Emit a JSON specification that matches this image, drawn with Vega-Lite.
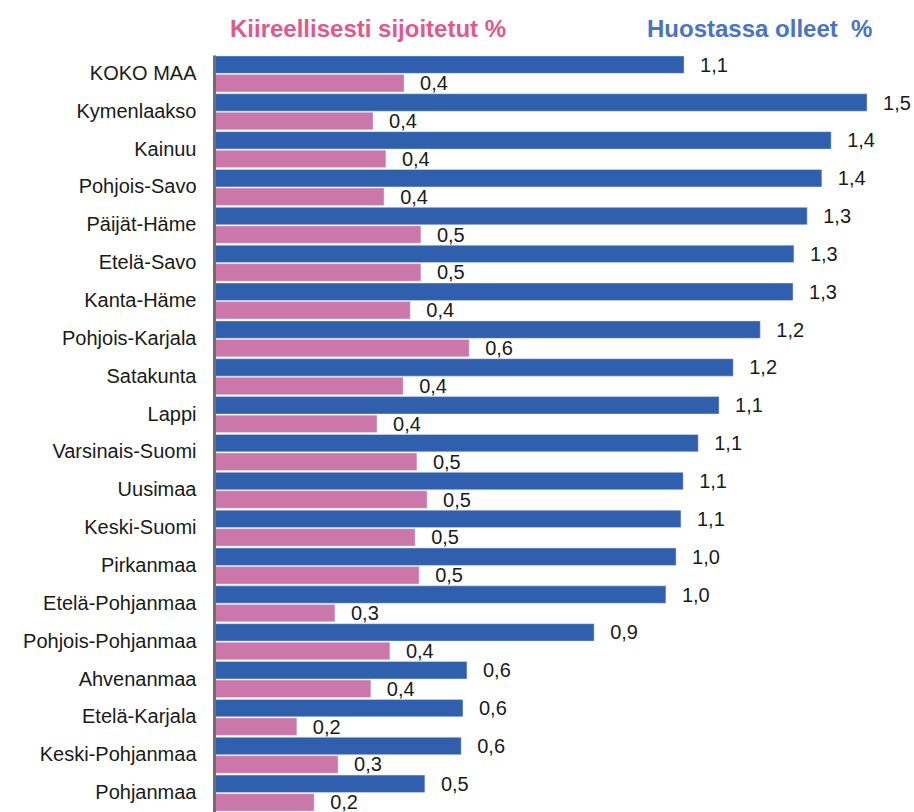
{
  "$schema": "https://vega.github.io/schema/vega-lite/v6.json",
  "width": 700,
  "height": 757,
  "autosize": {"type": "none"},
  "padding": {"left": 214, "top": 55, "right": 0, "bottom": 0},
  "background": "white",
  "config": {
    "view": {"stroke": null},
    "locale": {"number": {"decimal": ",", "thousands": " ", "grouping": [3], "currency": ["", " €"]}}
  },
  "data": {
    "values": [
      {"alue": "KOKO MAA", "sarja": "Huostassa olleet  %", "arvo": 1.061},
      {"alue": "KOKO MAA", "sarja": "Kiireellisesti sijoitetut %", "arvo": 0.429},
      {"alue": "Kymenlaakso", "sarja": "Huostassa olleet  %", "arvo": 1.474},
      {"alue": "Kymenlaakso", "sarja": "Kiireellisesti sijoitetut %", "arvo": 0.359},
      {"alue": "Kainuu", "sarja": "Huostassa olleet  %", "arvo": 1.393},
      {"alue": "Kainuu", "sarja": "Kiireellisesti sijoitetut %", "arvo": 0.388},
      {"alue": "Pohjois-Savo", "sarja": "Huostassa olleet  %", "arvo": 1.372},
      {"alue": "Pohjois-Savo", "sarja": "Kiireellisesti sijoitetut %", "arvo": 0.384},
      {"alue": "Päijät-Häme", "sarja": "Huostassa olleet  %", "arvo": 1.339},
      {"alue": "Päijät-Häme", "sarja": "Kiireellisesti sijoitetut %", "arvo": 0.467},
      {"alue": "Etelä-Savo", "sarja": "Huostassa olleet  %", "arvo": 1.309},
      {"alue": "Etelä-Savo", "sarja": "Kiireellisesti sijoitetut %", "arvo": 0.467},
      {"alue": "Kanta-Häme", "sarja": "Huostassa olleet  %", "arvo": 1.307},
      {"alue": "Kanta-Häme", "sarja": "Kiireellisesti sijoitetut %", "arvo": 0.443},
      {"alue": "Pohjois-Karjala", "sarja": "Huostassa olleet  %", "arvo": 1.233},
      {"alue": "Pohjois-Karjala", "sarja": "Kiireellisesti sijoitetut %", "arvo": 0.576},
      {"alue": "Satakunta", "sarja": "Huostassa olleet  %", "arvo": 1.172},
      {"alue": "Satakunta", "sarja": "Kiireellisesti sijoitetut %", "arvo": 0.427},
      {"alue": "Lappi", "sarja": "Huostassa olleet  %", "arvo": 1.140},
      {"alue": "Lappi", "sarja": "Kiireellisesti sijoitetut %", "arvo": 0.368},
      {"alue": "Varsinais-Suomi", "sarja": "Huostassa olleet  %", "arvo": 1.093},
      {"alue": "Varsinais-Suomi", "sarja": "Kiireellisesti sijoitetut %", "arvo": 0.458},
      {"alue": "Uusimaa", "sarja": "Huostassa olleet  %", "arvo": 1.059},
      {"alue": "Uusimaa", "sarja": "Kiireellisesti sijoitetut %", "arvo": 0.481},
      {"alue": "Keski-Suomi", "sarja": "Huostassa olleet  %", "arvo": 1.054},
      {"alue": "Keski-Suomi", "sarja": "Kiireellisesti sijoitetut %", "arvo": 0.454},
      {"alue": "Pirkanmaa", "sarja": "Huostassa olleet  %", "arvo": 1.043},
      {"alue": "Pirkanmaa", "sarja": "Kiireellisesti sijoitetut %", "arvo": 0.463},
      {"alue": "Etelä-Pohjanmaa", "sarja": "Huostassa olleet  %", "arvo": 1.020},
      {"alue": "Etelä-Pohjanmaa", "sarja": "Kiireellisesti sijoitetut %", "arvo": 0.273},
      {"alue": "Pohjois-Pohjanmaa", "sarja": "Huostassa olleet  %", "arvo": 0.858},
      {"alue": "Pohjois-Pohjanmaa", "sarja": "Kiireellisesti sijoitetut %", "arvo": 0.397},
      {"alue": "Ahvenanmaa", "sarja": "Huostassa olleet  %", "arvo": 0.571},
      {"alue": "Ahvenanmaa", "sarja": "Kiireellisesti sijoitetut %", "arvo": 0.354},
      {"alue": "Etelä-Karjala", "sarja": "Huostassa olleet  %", "arvo": 0.562},
      {"alue": "Etelä-Karjala", "sarja": "Kiireellisesti sijoitetut %", "arvo": 0.187},
      {"alue": "Keski-Pohjanmaa", "sarja": "Huostassa olleet  %", "arvo": 0.558},
      {"alue": "Keski-Pohjanmaa", "sarja": "Kiireellisesti sijoitetut %", "arvo": 0.280},
      {"alue": "Pohjanmaa", "sarja": "Huostassa olleet  %", "arvo": 0.476},
      {"alue": "Pohjanmaa", "sarja": "Kiireellisesti sijoitetut %", "arvo": 0.226}
    ]
  },
  "encoding": {
    "y": {
      "field": "alue",
      "type": "nominal",
      "sort": null,
      "scale": {"paddingInner": 0.05, "paddingOuter": 0.025},
      "axis": {
        "title": null,
        "zindex": 1,
        "domainColor": "#6e6e6e",
        "domainWidth": 3,
        "ticks": false,
        "labelFontSize": 20,
        "labelFont": "Liberation Sans",
        "labelColor": "#1a1a1a",
        "labelPadding": 18,
        "labelLimit": 300
      }
    },
    "yOffset": {
      "field": "sarja",
      "type": "nominal",
      "sort": ["Huostassa olleet  %", "Kiireellisesti sijoitetut %"],
      "scale": {"paddingInner": 0.06}
    },
    "x": {
      "field": "arvo",
      "type": "quantitative",
      "scale": {"domain": [0, 1.58]},
      "axis": null
    }
  },
  "layer": [
    {
      "mark": {"type": "bar", "stroke": "#dfe6f2", "strokeWidth": 0.5},
      "encoding": {
        "color": {
          "field": "sarja",
          "type": "nominal",
          "scale": {
            "domain": ["Kiireellisesti sijoitetut %", "Huostassa olleet  %"],
            "range": ["#cc77aa", "#2f5fad"]
          },
          "legend": {
            "orient": "none",
            "legendX": -8,
            "legendY": -37,
            "direction": "horizontal",
            "title": null,
            "padding": 0,
            "symbolSize": 0,
            "symbolStrokeWidth": 0,
            "symbolOpacity": 0,
            "labelOffset": 0,
            "labelFontSize": 24,
            "labelFont": "Liberation Sans",
            "labelFontWeight": "bold",
            "labelLimit": 400,
            "columnPadding": 116,
            "labelExpr": "replace(datum.label, '  ', ' \u00a0')",
            "labelColor": {"expr": "indexof(datum.value, 'Huostassa') >= 0 ? '#4a72c6' : '#e0588c'"}
          }
        }
      }
    },
    {
      "mark": {
        "type": "text",
        "align": "left",
        "baseline": "middle",
        "dx": 16,
        "dy": 1,
        "fontSize": 20,
        "font": "Liberation Sans",
        "color": "#1a1a1a"
      },
      "encoding": {
        "text": {"field": "arvo", "type": "quantitative", "format": ".1f"}
      }
    }
  ]
}
